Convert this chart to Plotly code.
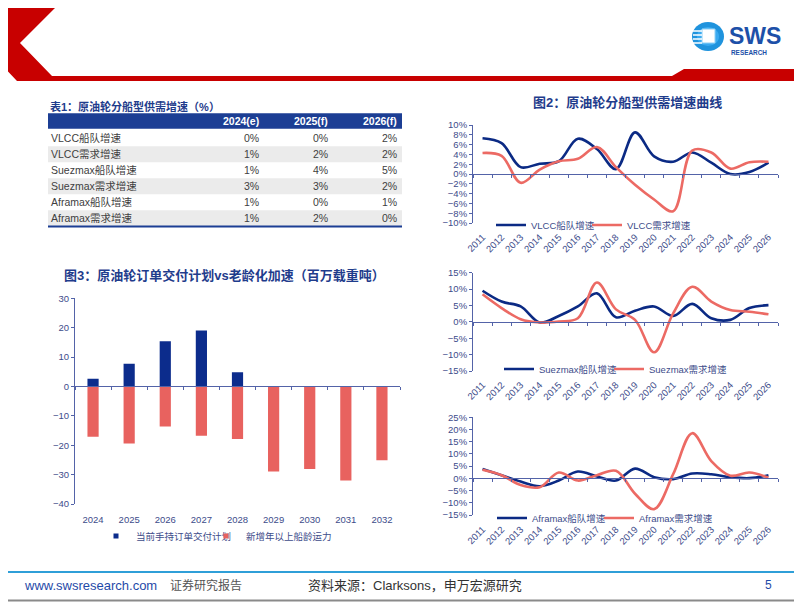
import plotly.graph_objects as go

W, H = 802, 602
# the page body adds an 8px margin around the figure; compensate so the picture lines up
OX, OY = 8, 8
def fx(x): return (x - OX) / W
def fy(y): return 1 - (y - OY) / H

FONT = "Liberation Sans, Arial, Noto Sans CJK SC, sans-serif"
NAVY = "#0b2a84"
RED = "#ec6a64"
BAR_BLUE = "#0c2c8c"
BAR_RED = "#e8625f"
AX = "#5363a8"
TXT = "#3d4c8a"
TITLE = "#1f3c8c"

# ---------------- data ----------------
table_title = "表1：原油轮分船型供需增速（%）"
table_cols = ["2024(e)", "2025(f)", "2026(f)"]
table_rows = ["VLCC船队增速", "VLCC需求增速", "Suezmax船队增速", "Suezmax需求增速", "Aframax船队增速", "Aframax需求增速"]
tbl_2024 = ["0%", "1%", "1%", "3%", "1%", "1%"]
tbl_2025 = ["0%", "2%", "4%", "3%", "0%", "2%"]
tbl_2026 = ["2%", "2%", "5%", "2%", "1%", "0%"]

years = ["2011", "2012", "2013", "2014", "2015", "2016", "2017", "2018",
         "2019", "2020", "2021", "2022", "2023", "2024", "2025", "2026"]
vlcc_fleet = [7.3, 6.3, 1.4, 2.1, 2.6, 7.2, 5.1, 1.0, 8.5, 3.6, 2.5, 4.4, 2.3, 0.0, 0.4, 2.3]
vlcc_demand = [4.3, 3.7, -1.8, 0.9, 2.6, 3.1, 5.5, 1.4, -2.2, -5.2, -7.6, 4.8, 4.4, 1.1, 2.4, 2.5]
suez_fleet = [9.5, 6.2, 4.7, -0.2, 1.8, 4.7, 8.7, 1.4, 3.4, 4.7, 1.8, 5.5, 1.1, 0.6, 4.2, 5.1]
suez_demand = [8.4, 4.2, 0.8, -0.2, 0.1, 1.1, 12.0, 3.8, 0.6, -9.3, 2.6, 10.7, 6.2, 3.6, 3.1, 2.3]
afra_fleet = [3.8, 1.3, -1.3, -3.2, -0.9, 2.8, 0.8, -0.9, 4.0, 0.5, -0.3, 2.0, 1.7, 0.5, 0.1, 1.3]
afra_demand = [3.5, 1.3, -2.7, -3.6, 2.4, -0.9, 1.3, 3.1, -6.3, -12.6, 1.7, 18.5, 7.1, 1.1, 2.4, 0.3]

bar_years = ["2024", "2025", "2026", "2027", "2028", "2029", "2030", "2031", "2032"]
orderbook = [2.6, 7.7, 15.4, 19.0, 4.8, None, None, None, None]
aging = [-17.1, -19.4, -13.6, -16.8, -17.9, -28.9, -28.1, -32.0, -25.1]
bar_names = ["当前手持订单交付计划", "新增年以上船龄运力"]

fig = go.Figure()

# ---------------- bar chart ----------------
bx = list(range(len(bar_years)))
fig.add_trace(go.Bar(x=bx, y=orderbook, name=bar_names[0], marker_color=BAR_BLUE, marker_line_width=0,
                     width=0.31, xaxis="x", yaxis="y", showlegend=False))
fig.add_trace(go.Bar(x=bx, y=aging, name=bar_names[1], marker_color=BAR_RED, marker_line_width=0,
                     width=0.31, xaxis="x", yaxis="y", showlegend=False))
# legend-only entries with small square swatches (one legend box each)
for nm, col, lg in zip(bar_names, [BAR_BLUE, BAR_RED], ["legend", "legend5"]):
    fig.add_trace(go.Scatter(x=[None], y=[None], mode="markers", name=nm,
                             marker=dict(symbol="square", size=5, color=col),
                             xaxis="x", yaxis="y", legend=lg))

# ---------------- line charts ----------------
lx = list(range(len(years)))
def add_lines(a, b, names, xa, ya, legs):
    fig.add_trace(go.Scatter(x=lx, y=a, name=names[0], mode="lines",
                             line=dict(color=NAVY, width=2.6, shape="spline", smoothing=1.0),
                             xaxis=xa, yaxis=ya, legend=legs[0]))
    fig.add_trace(go.Scatter(x=lx, y=b, name=names[1], mode="lines",
                             line=dict(color=RED, width=2.6, shape="spline", smoothing=1.0),
                             xaxis=xa, yaxis=ya, legend=legs[1]))

add_lines(vlcc_fleet, vlcc_demand, ["VLCC船队增速", "VLCC需求增速"], "x2", "y2", ["legend2", "legend6"])
add_lines(suez_fleet, suez_demand, ["Suezmax船队增速", "Suezmax需求增速"], "x3", "y3", ["legend3", "legend7"])
add_lines(afra_fleet, afra_demand, ["Aframax船队增速", "Aframax需求增速"], "x4", "y4", ["legend4", "legend8"])

# ---------------- axes ----------------
def zero_pos(rng, ytop, ybot):
    b, t = fy(ybot), fy(ytop)
    return b + (0 - rng[0]) / (rng[1] - rng[0]) * (t - b)

def xaxis_cfg(left, right, n, labels, rng, ytop, ybot, angle, extra):
    zp = zero_pos(rng, ytop, ybot)
    standoff = int(round((fy(ybot) * -H + zp * H) * -1 * -1 if False else (zp - fy(ybot)) * H + extra))
    return dict(domain=[fx(left), fx(right)], range=[-0.5, n - 0.5], anchor="free", position=zp,
                tickmode="array", tickvals=list(range(n)), ticktext=labels, tickangle=angle,
                ticks="", showline=True, linecolor=AX, linewidth=1, showgrid=False, zeroline=False,
                automargin=False, fixedrange=True,
                ticklabelstandoff=standoff, tickfont=dict(size=9.5, color=TXT, family=FONT),
                minor=dict(tickmode="array", tickvals=[i - 0.5 for i in range(n + 1)], ticks="outside",
                           ticklen=3, tickcolor=AX, tickwidth=1, showgrid=False))

def yaxis_cfg(ytop, ybot, rng, dtick, suffix, xa):
    return dict(domain=[fy(ybot), fy(ytop)], range=rng, dtick=dtick, ticksuffix=suffix, anchor=xa,
                ticks="outside", ticklen=3, tickcolor=AX, showline=True, linecolor=AX, linewidth=1,
                showgrid=False, zeroline=False, automargin=False, fixedrange=True,
                tickfont=dict(size=9.5, color=TXT, family=FONT))

bar_rng = [-40, 30]
v_rng, s_rng, a_rng = [-10, 10], [-15, 15], [-15, 25]
fig.update_layout(
    template="none",
    xaxis=xaxis_cfg(75, 400, len(bar_years), bar_years, bar_rng, 298.3, 504, 0, 6),
    yaxis=yaxis_cfg(298.3, 504, bar_rng, 10, "", "x"),
    xaxis2=xaxis_cfg(473, 778, len(years), years, v_rng, 125, 223, -45, 4),
    yaxis2=yaxis_cfg(125, 223, v_rng, 2, "%", "x2"),
    xaxis3=xaxis_cfg(473, 778, len(years), years, s_rng, 272.7, 371, -45, 4),
    yaxis3=yaxis_cfg(272.7, 371, s_rng, 5, "%", "x3"),
    xaxis4=xaxis_cfg(473, 778, len(years), years, a_rng, 417.3, 515, -45, 4),
    yaxis4=yaxis_cfg(417.3, 515, a_rng, 5, "%", "x4"),
)

def leg(x, y):
    return dict(x=fx(x), y=fy(y), xanchor="left", yanchor="middle", orientation="h",
                bgcolor="rgba(0,0,0,0)", borderwidth=0, font=dict(size=9.5, color=TXT, family=FONT),
                itemwidth=30, tracegroupgap=0)

fig.update_layout(
    width=W, height=H, margin=dict(l=0, r=0, t=0, b=0, pad=0, autoexpand=False),
    paper_bgcolor="white", plot_bgcolor="rgba(0,0,0,0)",
    barmode="relative", showlegend=True,
    font=dict(family=FONT, color=TXT),
    legend=leg(96, 536), legend5=leg(206, 536),
    legend2=leg(491, 225), legend6=leg(587, 225),
    legend3=leg(499, 369), legend7=leg(609, 369),
    legend4=leg(492, 518), legend8=leg(599, 518),
)

shapes = []
annos = []

# ---------------- frame / header ----------------
def P(pts):
    return "M " + " L ".join(f"{fx(x):.5f},{fy(y):.5f}" for x, y in pts) + " Z"

shapes.append(dict(type="path", xref="paper", yref="paper",
                   path=P([(15, 0), (63, 0), (20, 43), (52, 76), (672, 76), (684, 69), (802, 69),
                           (802, 81), (17, 81), (0, 63), (0, 17)]),
                   fillcolor="#c80000", line=dict(width=0)))
# logo
shapes.append(dict(type="circle", xref="paper", yref="paper", x0=fx(692), x1=fx(724), y0=fy(51), y1=fy(22),
                   fillcolor="#1f93dd", line=dict(width=0)))
shapes.append(dict(type="circle", xref="paper", yref="paper", x0=fx(697), x1=fx(719), y0=fy(46), y1=fy(27),
                   fillcolor="#3aaaf0", line=dict(width=0)))
shapes.append(dict(type="rect", xref="paper", yref="paper", x0=fx(702), x1=fx(715), y0=fy(43), y1=fy(29),
                   fillcolor="white", line=dict(color="#8fd0f5", width=1)))
for sy in [31, 35, 39, 43]:
    shapes.append(dict(type="line", xref="paper", yref="paper", x0=fx(693), x1=fx(702), y0=fy(sy), y1=fy(sy),
                       line=dict(color="white", width=1.5)))
annos.append(dict(text="<b>SWS</b>", x=fx(727), y=fy(35.5), xref="paper", yref="paper", xanchor="left",
                  yanchor="middle", showarrow=False, font=dict(size=23, color="#1d50a8", family=FONT)))
annos.append(dict(text="<b>RESEARCH</b>", x=fx(729), y=fy(52.3), xref="paper", yref="paper", xanchor="left",
                  yanchor="middle", showarrow=False, font=dict(size=6.4, color="#1d50a8", family=FONT)))

# slide frame (right and bottom edges fall inside the visible page)
shapes.append(dict(type="line", xref="paper", yref="paper", x0=fx(800.5), x1=fx(800.5), y0=fy(0), y1=fy(602),
                   line=dict(color="#8a8a8a", width=2)))
shapes.append(dict(type="line", xref="paper", yref="paper", x0=fx(0), x1=fx(802), y0=fy(600.5), y1=fy(600.5),
                   line=dict(color="#8a8a8a", width=2)))

# footer
shapes.append(dict(type="line", xref="paper", yref="paper", x0=fx(0), x1=fx(802), y0=fy(572), y1=fy(572),
                   line=dict(color="#2f9fd8", width=2)))
def txt(t, x, y, size, color, anchor="left", bold=False):
    annos.append(dict(text=(f"<b>{t}</b>" if bold else t), x=fx(x), y=fy(y), xref="paper", yref="paper",
                      xanchor=anchor, yanchor="middle", showarrow=False,
                      font=dict(size=size, color=color, family=FONT)))
txt("www.swsresearch.com", 22, 585, 13, "#1f4aa8")
txt("证券研究报告", 168, 585, 12, "#555555")
txt("资料来源：Clarksons，申万宏源研究", 306, 585, 13, "#333333")
txt("5", 763, 585, 12, "#1f4aa8")

# titles
txt(table_title, 48, 106.7, 11, TITLE, bold=True)
txt("图2：原油轮分船型供需增速曲线", 627.5, 102.5, 13, TITLE, anchor="center", bold=True)
txt("图3：原油轮订单交付计划vs老龄化加速（百万载重吨）", 224.7, 275, 13, TITLE, anchor="center", bold=True)

# ---------------- table ----------------
shapes.append(dict(type="rect", xref="paper", yref="paper", x0=fx(48), x1=fx(402), y0=fy(128.8), y1=fy(113.3),
                   fillcolor="#1c3e94", line=dict(width=0)))
col_x = [260.7, 330, 399]
for j, c in enumerate(table_cols):
    txt(c, col_x[j], 121, 10.5, "white", anchor="right", bold=True)
cols = [tbl_2024, tbl_2025, tbl_2026]
for i, r in enumerate(table_rows):
    cy = 138.3 + 16 * i
    if i % 2 == 1:
        shapes.append(dict(type="rect", xref="paper", yref="paper", x0=fx(48), x1=fx(402),
                           y0=fy(cy + 8), y1=fy(cy - 8), fillcolor="#ebebeb", line=dict(width=0), layer="below"))
    txt(r, 49, cy, 10.5, "#404040")
    for j in range(3):
        txt(cols[j][i], col_x[j], cy, 10.5, "#404040", anchor="right")
shapes.append(dict(type="line", xref="paper", yref="paper", x0=fx(48), x1=fx(402), y0=fy(226.5), y1=fy(226.5),
                   line=dict(color="#1c3e94", width=2)))

fig.update_layout(shapes=shapes, annotations=annos)
fig.write_html("out.html")
